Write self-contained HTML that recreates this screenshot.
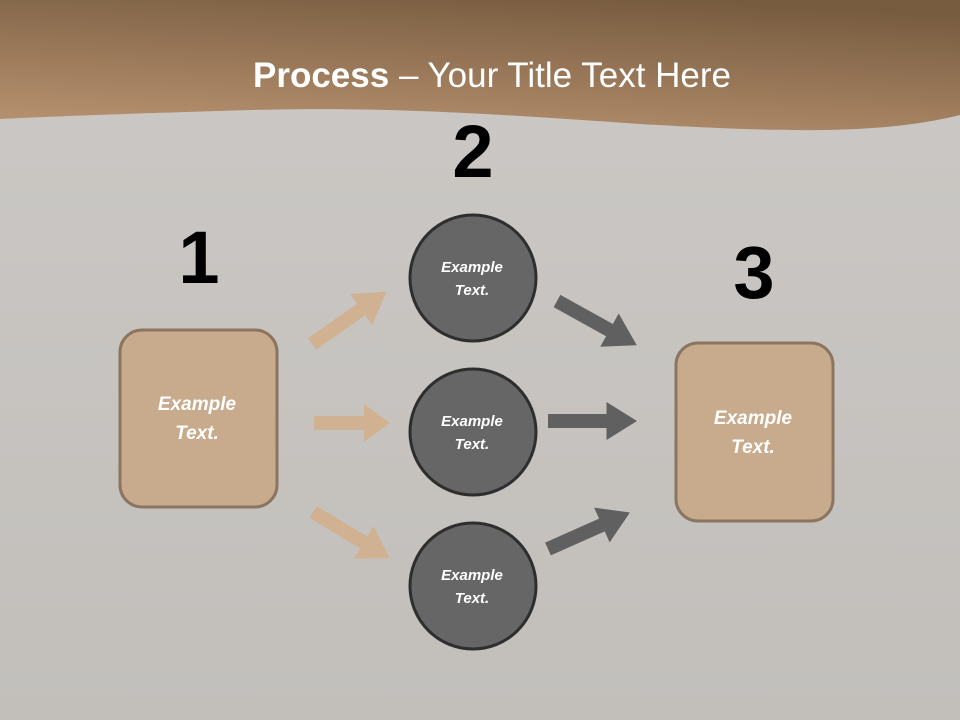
<!DOCTYPE html>
<html><head><style>
html,body{margin:0;padding:0;width:960px;height:720px;overflow:hidden}
svg{display:block}
</style></head><body>
<svg width="960" height="720" viewBox="0 0 960 720" xmlns="http://www.w3.org/2000/svg">
<defs>
<linearGradient id="bg" x1="0" y1="0" x2="0" y2="1">
<stop offset="0" stop-color="#cbc8c5"/><stop offset="1" stop-color="#c2bfbb"/>
</linearGradient>
<linearGradient id="hd" x1="0.3" y1="1" x2="0.7" y2="0">
<stop offset="0" stop-color="#b48f6d"/><stop offset="1" stop-color="#785c40"/>
</linearGradient>
<g id="arr"><polygon points="0,-7 50,-7 50,-19 76,0 50,19 50,7 0,7"/></g>
</defs>
<rect width="960" height="720" fill="url(#bg)"/>
<path d="M0,0 H960 V115 C880,135 780,132 640,124 C520,116 400,106 250,110 C150,113 60,116 0,119 Z" fill="url(#hd)"/>
<text x="492" y="87" text-anchor="middle" font-family="Liberation Sans, sans-serif" font-size="35" fill="#fff"><tspan font-weight="bold">Process</tspan> – Your Title Text Here</text>

<g fill="#d2b08e" opacity="0.9">
<use href="#arr" transform="translate(312,344) rotate(-35) scale(1.2,1)"/>
<use href="#arr" transform="translate(314,423)"/>
<use href="#arr" transform="translate(313,512) rotate(31) scale(1.18,1)"/>
</g>
<g fill="#606060">
<use href="#arr" transform="translate(557,301) rotate(29) scale(1.2,1)"/>
<use href="#arr" transform="translate(548,421) scale(1.17,1)"/>
<use href="#arr" transform="translate(548,549) rotate(-24) scale(1.18,1)"/>
</g>

<rect x="120" y="330" width="157" height="177" rx="22" fill="#c8aa8c" stroke="#8c7560" stroke-width="3"/>
<rect x="676" y="343" width="157" height="178" rx="22" fill="#c8aa8c" stroke="#8c7560" stroke-width="3"/>
<g fill="#666" stroke="#2e2e2e" stroke-width="3">
<circle cx="473" cy="278" r="63"/><circle cx="473" cy="432" r="63"/><circle cx="473" cy="586" r="63"/>
</g>
<g font-family="Liberation Sans, sans-serif" font-style="italic" font-weight="bold" fill="#fff" text-anchor="middle">
<g font-size="15"><text x="472" y="272">Example</text><text x="472" y="295">Text.</text>
<text x="472" y="426">Example</text><text x="472" y="449">Text.</text>
<text x="472" y="580">Example</text><text x="472" y="603">Text.</text></g>
<g font-size="19"><text x="197" y="410">Example</text><text x="197" y="439">Text.</text>
<text x="753" y="424">Example</text><text x="753" y="453">Text.</text></g>
</g>
<g font-family="Liberation Sans, sans-serif" font-weight="bold" font-size="74" fill="#000" text-anchor="middle">
<text x="199" y="283">1</text><text x="473" y="177">2</text><text x="754" y="298">3</text>
</g>
</svg>
</body></html>
